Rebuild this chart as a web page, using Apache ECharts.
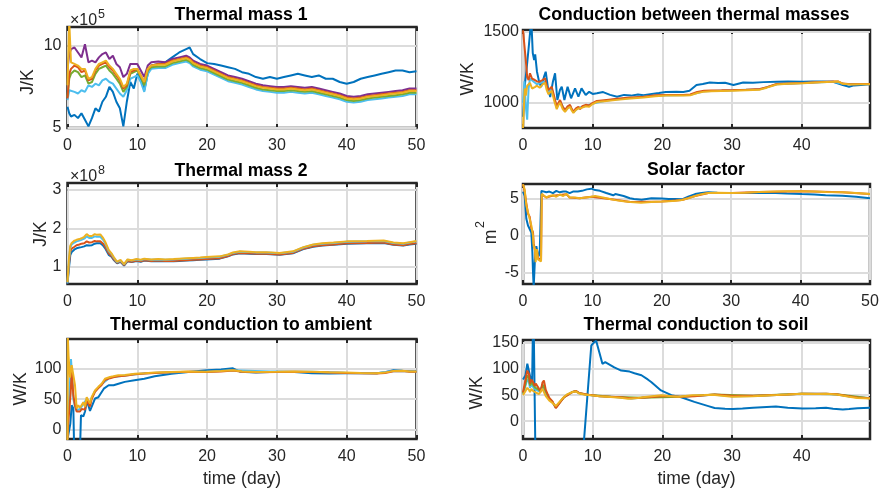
<!DOCTYPE html>
<html><head><meta charset="utf-8">
<script src="https://cdn.jsdelivr.net/npm/echarts@6/dist/echarts.min.js"></script>
<style>html,body{margin:0;padding:0;background:#fff}#c{width:879px;height:495px}</style>
</head><body><div id="c"></div>
<script>
// ---------------- DATA ----------------
const titles = ['Thermal mass 1','Conduction between thermal masses','Thermal mass 2','Solar factor','Thermal conduction to ambient','Thermal conduction to soil'];
const yUnits = ['J/K','W/K','J/K','m','W/K','W/K'];
const xLabel = 'time (day)';
const xTicksLeft = [0,10,20,30,40,50];
const xTicksRight = [0,10,20,30,40];
const xTicksSolar = [0,10,20,30,40,50];
const yTicks1 = [5,10];
const yTicks2 = [1000,1500];
const yTicks3 = [1,2,3];
const yTicks4 = [-5,0,5];
const yTicks5 = [0,50,100];
const yTicks6 = [0,50,100,150];

// Thermal mass 1 (x 1e5 J/K)
const t1 = [0,0.25,0.5,1,1.5,2,2.5,3,3.5,4,4.5,5,5.5,6,6.5,7,7.5,8,8.5,9,9.5,10,10.5,11,11.5,12,13,14,15,16,17,17.5,18,19,20,21,22,23,24,25,26,27,28,29,30,31,32,33,34,35,36,37,38,39,40,41,42,43,44,45,46,47,48,49,50];
const tm1Blue = [6.3,5.9,5.7,5.8,5.6,5.9,5.5,5.1,5.6,6.2,6.0,6.6,6.9,7.5,7.2,6.6,6.2,5.1,6.6,7.8,7.4,8.3,8.0,7.3,8.3,8.8,8.9,9.0,9.3,9.6,9.8,9.9,9.5,9.2,8.95,8.9,8.8,8.7,8.6,8.4,8.3,8.1,8.0,8.1,8.0,8.1,8.2,8.3,8.2,8.1,8.2,8.0,8.0,7.8,7.7,7.8,8.0,8.1,8.2,8.3,8.4,8.5,8.5,8.4,8.45];
const tm1LBlue = [6.7,7.3,7.2,7.2,7.1,7.3,7.2,7.6,7.5,7.7,7.6,7.9,8.0,7.8,7.7,7.4,7.1,6.9,7.3,8.0,8.1,8.2,7.8,7.2,8.3,8.6,8.65,8.65,8.85,8.95,9.05,8.95,8.75,8.55,8.45,8.25,8.05,7.85,7.75,7.65,7.5,7.35,7.25,7.2,7.15,7.15,7.2,7.15,7.1,7.15,7.05,6.95,6.85,6.75,6.6,6.55,6.6,6.7,6.75,6.8,6.85,6.9,6.95,7.05,7.05];
const tm1Green = [6.9,8.0,8.3,8.5,8.4,8.1,8.2,7.7,7.8,8.3,8.6,8.7,8.8,8.5,8.3,8.0,7.7,7.2,7.5,8.3,8.4,8.5,8.1,7.6,8.5,8.7,8.75,8.75,8.95,9.05,9.15,9.05,8.85,8.65,8.55,8.35,8.15,7.95,7.85,7.75,7.6,7.45,7.35,7.3,7.25,7.25,7.3,7.25,7.2,7.25,7.15,7.05,6.95,6.85,6.7,6.65,6.7,6.8,6.85,6.9,6.95,7.0,7.05,7.15,7.15];
const tm1Purple = [8.6,9.5,9.8,9.9,9.6,9.3,10.1,9.0,9.1,9.0,9.3,9.5,9.6,9.2,9.4,8.9,8.7,8.1,8.3,8.9,8.9,8.9,8.5,8.1,8.8,9.0,9.05,9.0,9.2,9.3,9.4,9.3,9.1,8.9,8.8,8.6,8.4,8.2,8.1,8.0,7.85,7.7,7.6,7.55,7.5,7.5,7.55,7.5,7.45,7.5,7.4,7.3,7.2,7.1,6.95,6.9,6.95,7.05,7.1,7.15,7.2,7.25,7.3,7.4,7.4];
const tm1Orange = [6.8,8.3,8.6,8.8,8.7,8.4,8.5,7.9,8.0,8.5,8.8,8.9,9.0,8.7,8.5,8.2,7.9,7.4,7.6,8.4,8.5,8.6,8.2,7.8,8.6,8.8,8.9,8.9,9.1,9.2,9.3,9.2,9.0,8.8,8.7,8.5,8.3,8.1,8.0,7.9,7.75,7.6,7.5,7.45,7.4,7.4,7.45,7.4,7.35,7.4,7.3,7.2,7.1,7.0,6.85,6.8,6.85,6.95,7.0,7.05,7.1,7.15,7.2,7.3,7.3];
const tm1Yellow = [7.6,11.5,9.0,8.9,8.8,8.6,8.6,8.0,8.1,8.6,8.9,9.0,9.1,8.8,8.6,8.3,8.0,7.5,7.7,8.5,8.6,8.6,8.2,7.8,8.6,8.8,8.85,8.85,9.05,9.15,9.25,9.15,8.95,8.75,8.65,8.45,8.25,8.05,7.95,7.85,7.7,7.55,7.45,7.4,7.35,7.35,7.4,7.35,7.3,7.35,7.25,7.15,7.05,6.95,6.8,6.75,6.8,6.9,6.95,7.0,7.05,7.1,7.15,7.25,7.25];

// Conduction between thermal masses (W/K) [day, value]
const cbBlue = [[0,900],[0.25,1120],[0.5,1230],[0.8,1380],[1.1,1540],[1.25,1520],[1.4,1350],[1.6,1300],[1.75,1340],[2.0,1220],[2.3,1150],[2.6,1110],[3.0,1180],[3.26,1218],[3.6,1100],[3.9,1040],[4.3,1150],[4.6,1207],[4.93,1019],[5.3,1090],[5.56,1113],[5.94,1019],[6.4,1113],[6.9,1031],[7.47,1101],[7.95,1042],[8.4,1101],[9.0,1054],[9.5,1077],[10,1062],[10.6,1066],[11.5,1075],[12.5,1055],[13.5,1042],[14.5,1055],[15.5,1050],[16.5,1058],[17.3,1053],[18.5,1062],[19.5,1068],[20.5,1075],[22,1077],[23,1075],[23.9,1084],[24.9,1125],[25.8,1132],[26.8,1142],[28,1138],[29,1140],[30.2,1125],[31.6,1142],[33,1140],[34.5,1145],[36.4,1148],[38,1150],[40.2,1147],[41.5,1150],[43,1150],[44.5,1148],[45.9,1125],[46.8,1113],[47.5,1122],[48.5,1125],[49.8,1130]];
const cbLBlue = [[0,1000],[0.2,1150],[0.45,950],[0.6,880],[0.8,1100],[1.0,1170],[1.5,1150],[2.0,1130],[2.5,1140],[3.16,1150],[3.64,1075],[4.12,1100],[4.84,965],[5.32,1010],[6.03,942],[6.75,978],[7.23,932],[7.95,965],[8.5,970],[9.9,992],[12,1016],[15,1032],[19,1050],[22,1052],[24,1055],[26,1081],[30.2,1087],[34,1094],[36.4,1130],[40.2,1138],[44.5,1148],[45.9,1134],[49.8,1131]];
const cbOrange = [[0,1510],[0.2,1500],[0.4,1300],[0.6,1180],[0.8,1160],[1.0,1207],[1.3,1170],[1.7,1160],[2.0,1150],[2.4,1148],[2.8,1160],[3.16,1172],[3.4,1120],[3.64,1089],[3.9,1100],[4.12,1113],[4.5,1040],[4.84,972],[5.1,1000],[5.32,1019],[5.7,970],[6.03,949],[6.4,975],[6.75,985],[7.0,955],[7.23,937],[7.6,960],[7.95,970],[8.2,955],[8.5,975],[9.0,985],[9.5,980],[9.9,996],[10.6,1012],[12,1020],[13.5,1028],[15,1035],[17.3,1042],[19,1052],[20.5,1055],[22,1054],[23,1054],[24,1058],[25,1075],[26,1084],[27,1086],[28.5,1087],[30.2,1089],[32,1092],[34,1096],[35,1110],[36.4,1132],[38,1136],[40.2,1139],[42,1144],[44.5,1149],[45.2,1150],[45.9,1135],[47,1130],[48.5,1132],[49.8,1132]];
const cbYellow = [[0,822],[0.1,830],[0.25,1100],[0.4,1050],[0.6,1120],[0.8,1110],[1.0,1140],[1.3,1100],[1.7,1110],[2.0,1120],[2.4,1105],[2.8,1130],[3.16,1140],[3.4,1090],[3.64,1060],[3.9,1070],[4.12,1085],[4.5,1010],[4.84,955],[5.1,985],[5.32,1000],[5.7,955],[6.03,935],[6.4,960],[6.75,970],[7.0,945],[7.23,928],[7.6,950],[7.95,960],[8.2,948],[8.5,965],[9.0,975],[9.5,972],[9.9,988],[10.6,1005],[12,1012],[13.5,1020],[15,1028],[17.3,1036],[19,1046],[20.5,1050],[22,1050],[23,1050],[24,1052],[25,1068],[26,1078],[27,1080],[28.5,1082],[30.2,1084],[32,1088],[34,1092],[35,1106],[36.4,1128],[38,1133],[40.2,1137],[42,1142],[44.5,1147],[45.2,1150],[45.9,1133],[47,1128],[48.5,1130],[49.8,1130]];

// Thermal mass 2 (x 1e8 J/K)
const t3 = [0,0.2,0.4,0.6,1.0,1.3,1.7,2.0,2.4,2.75,3.1,3.5,3.9,4.2,4.7,5.1,5.4,5.9,6.3,6.6,7.1,7.6,8.1,8.6,9.2,9.9,10.5,11,12,13,14,15.2,16,17,18,19,19.9,21.8,23,23.7,24.7,26,27,28.5,30.4,32.3,33.8,35.2,36.5,38.1,40,42.9,45.3,46.7,48.1,49,50];
const tm2Blue = [0.55,0.95,1.3,1.38,1.45,1.48,1.50,1.51,1.53,1.56,1.55,1.56,1.60,1.61,1.61,1.55,1.48,1.31,1.26,1.18,1.09,1.13,1.03,1.14,1.12,1.15,1.13,1.16,1.14,1.15,1.14,1.14,1.15,1.16,1.17,1.18,1.19,1.21,1.27,1.32,1.35,1.34,1.33,1.33,1.31,1.35,1.46,1.52,1.55,1.57,1.60,1.61,1.62,1.57,1.55,1.58,1.60];
const tm2Orange = [0.57,1.05,1.4,1.47,1.52,1.56,1.58,1.60,1.61,1.66,1.63,1.64,1.67,1.66,1.66,1.60,1.52,1.35,1.28,1.20,1.10,1.14,1.04,1.15,1.13,1.16,1.14,1.17,1.15,1.16,1.15,1.15,1.16,1.17,1.18,1.19,1.20,1.22,1.28,1.33,1.36,1.35,1.34,1.34,1.32,1.36,1.47,1.53,1.56,1.58,1.61,1.62,1.63,1.58,1.56,1.59,1.61];
const tm2LBlue = [0.58,1.15,1.5,1.58,1.63,1.66,1.68,1.70,1.73,1.79,1.75,1.75,1.79,1.78,1.78,1.70,1.61,1.41,1.33,1.24,1.12,1.16,1.06,1.18,1.16,1.19,1.17,1.20,1.18,1.19,1.18,1.19,1.20,1.21,1.22,1.23,1.24,1.26,1.31,1.36,1.39,1.38,1.37,1.37,1.35,1.39,1.50,1.57,1.60,1.62,1.65,1.66,1.67,1.62,1.60,1.63,1.66];
const tm2Yellow = [0.6,1.2,1.55,1.62,1.68,1.70,1.72,1.74,1.78,1.85,1.80,1.80,1.85,1.83,1.84,1.75,1.65,1.44,1.35,1.26,1.13,1.18,1.07,1.19,1.17,1.20,1.18,1.21,1.19,1.20,1.19,1.20,1.21,1.22,1.23,1.24,1.25,1.27,1.32,1.37,1.40,1.39,1.38,1.38,1.36,1.40,1.51,1.58,1.61,1.63,1.66,1.67,1.68,1.63,1.61,1.64,1.67];

// Solar factor (m2) [day, value]
const sfBlue = [[0,6.0],[0.24,5.4],[0.48,2.3],[0.72,1.4],[0.96,1.4],[1.2,0.45],[1.35,-2.2],[1.44,-4.9],[1.54,-7.0],[1.72,-3.2],[1.92,-1.4],[2.0,-1.6],[2.2,-2.8],[2.4,-2.5],[2.55,-2.7],[2.65,6.1],[2.9,6.1],[3.36,5.9],[3.8,6.0],[4.32,5.8],[4.8,6.1],[5.28,5.9],[5.8,6.0],[6.24,6.0],[6.72,5.8],[7.2,6.0],[7.9,6.0],[8.5,6.1],[9.2,6.3],[9.85,6.4],[10.4,6.2],[11.1,6.1],[12,5.8],[13,5.5],[13.3,5.66],[14.5,5.4],[15.4,5.1],[16,5.0],[17.1,4.9],[18.5,5.1],[20,5.05],[21,5.0],[21.9,4.98],[22.9,4.95],[23.8,5.3],[24.8,5.66],[25.7,5.8],[26.7,5.9],[28,5.85],[30.1,5.8],[32,5.8],[33.9,5.82],[36.4,5.82],[38,5.75],[40.2,5.66],[42,5.6],[43.6,5.5],[46,5.45],[48,5.3],[50,5.1]];
const sfOrange = [[0,7.0],[0.24,6.0],[0.48,4.4],[0.72,3.0],[0.96,2.6],[1.2,1.0],[1.44,0.5],[1.54,-1.0],[1.72,-2.0],[1.82,-3.2],[2.0,-2.0],[2.16,-3.0],[2.4,-3.2],[2.6,-3.3],[2.7,5.6],[2.9,5.6],[3.36,5.2],[4.32,5.45],[5.28,5.55],[6.24,5.65],[6.72,5.2],[8.16,5.1],[9.85,5.3],[12.5,5.0],[15.5,4.6],[20,4.65],[22.9,4.85],[24.8,5.4],[26.7,5.8],[30.1,5.8],[34,5.93],[40.2,6.06],[46,5.9],[50,5.66]];
const sfYellow = [[0,7.0],[0.24,6.3],[0.48,4.1],[0.72,3.2],[0.96,2.3],[1.2,1.4],[1.44,0.0],[1.54,-1.4],[1.72,-1.8],[1.82,-3.6],[2.0,-1.8],[2.16,-3.2],[2.4,-3.4],[2.6,-3.5],[2.7,5.7],[2.9,5.7],[3.36,5.2],[3.8,5.4],[4.32,5.5],[4.8,5.3],[5.28,5.6],[5.8,5.4],[6.24,5.7],[6.72,5.2],[7.5,5.2],[8.16,5.1],[9,5.2],[9.85,5.3],[10.4,5.4],[11.5,5.2],[12.5,5.0],[13.3,4.84],[14.5,4.7],[15.5,4.6],[17,4.5],[18.5,4.6],[20,4.65],[21,4.7],[22,4.75],[22.9,4.85],[23.8,5.1],[24.8,5.4],[25.7,5.65],[26.7,5.8],[28,5.85],[30.1,5.8],[32,5.85],[34,5.93],[36.4,6.0],[38,6.03],[40.2,6.06],[42,6.0],[43.6,5.95],[46,5.9],[48,5.8],[50,5.66]];

// Thermal conduction to ambient (W/K) [day, value]
const caBlue = [[0,-15],[0.4,10],[0.6,40],[0.84,35],[0.95,-30],[1.8,-30],[1.93,24],[2.27,22],[2.51,30],[2.75,46],[2.98,40],[3.22,31],[3.46,34],[3.94,51],[4.42,53],[4.7,53],[5.2,67],[5.9,72.5],[6.6,72.5],[7.3,75],[8.2,78],[9.6,80.5],[11,83],[12.5,87],[14.9,91],[17.3,94],[20,97],[22,98],[23.7,100],[24.7,94.5],[27,93],[30,94.5],[32.5,94],[35,92],[37.5,91.5],[40,92],[42,92],[44.3,92],[45.5,93.5],[46.7,97],[48,96],[50,95]];
const caLBlue = [[0,-15],[0.1,30],[0.3,60],[0.5,115],[0.65,90],[0.84,50],[1.07,38],[1.31,32],[1.79,34],[2.27,42],[2.75,50],[3.22,40],[3.46,52],[3.94,63],[4.89,74],[6.09,85],[8.24,88.5],[11.1,91.8],[14.9,93.8],[19.9,94.3],[23.7,96.8],[30,94.3],[35,94.3],[39.8,92.8],[44.3,91.8],[46.7,95.6],[50,94.8]];
const caOrange = [[0,-15],[0.1,10],[0.25,13],[0.45,60],[0.6,95],[0.84,56],[1.07,40],[1.31,30],[1.55,32],[1.79,30],[2.03,34],[2.27,36],[2.51,33],[2.75,48],[2.98,45],[3.22,38],[3.46,50],[3.94,62],[4.42,68],[4.89,73],[5.37,81],[6.09,84],[6.56,85.5],[7.28,87],[8.24,88],[9.67,90.5],[11.1,91.5],[12.5,92.5],[14.9,93.5],[17.3,94.5],[19.9,94],[22,95],[23.7,96.5],[25,94.5],[27,93.5],[30,94],[32.5,94.5],[35,94],[37.5,93],[39.8,92.5],[42,92],[44.3,91.5],[45.5,92.5],[46.7,95.3],[48,95.5],[49,94.5],[50,94.5]];
const caYellow = [[0,-20],[0.05,150],[0.15,120],[0.36,85],[0.6,105],[0.84,105],[1.07,73],[1.31,35],[1.55,40],[1.79,36],[2.03,35],[2.27,45],[2.51,38],[2.75,53],[2.98,50],[3.22,43],[3.46,53],[3.94,64],[4.42,70],[4.89,75],[5.37,83],[6.09,86],[6.56,87],[7.28,88.6],[8.24,89],[9.67,91.3],[11.1,92],[12.5,93],[14.9,94],[17.3,95],[19.9,94.5],[22,95.5],[23.7,97],[25,95],[27,94],[30,94.5],[32.5,95],[35,94.5],[37.5,93.5],[39.8,93],[42,92.5],[44.3,92],[45.5,93],[46.7,95.8],[48,96],[49,95],[50,95]];

// Thermal conduction to soil (W/K) [day, value]
const csBlue = [[0,80],[0.36,88],[0.62,110],[0.75,113],[0.9,107],[1.2,75],[1.3,70],[1.45,200],[1.5,220],[1.8,-80],[2.1,-150],[8.1,-150],[9.8,145],[10.2,151],[10.5,154],[10.95,132],[11.4,110],[11.8,113],[12.6,107],[13.1,103],[14.1,97],[15.3,95],[16,92],[17,88],[17.9,80],[18.4,75],[19.8,59],[21.3,50],[22.7,46],[24.6,37],[26.6,29],[27.5,25.4],[29,24],[30.1,23.5],[31.5,24.5],[33,26],[36.3,28],[38,26],[40.1,24.5],[42,25],[43.5,25.6],[44.5,24],[45.9,22.5],[46.8,23.5],[48,25],[49.8,26]];
const csLBlue = [[0,52],[0.36,68],[0.62,80],[0.86,75],[1.0,64],[1.2,70],[1.44,66],[1.68,62],[1.83,63],[2.31,57],[2.55,54],[2.79,68],[3.0,70],[3.27,54],[3.75,42],[4.23,36],[4.71,27],[4.95,26],[5.43,39],[5.91,46.5],[6.39,51],[7.11,56],[7.59,57.5],[8.07,53.5],[8.79,51.5],[9.75,49.8],[11,48],[12.6,46.8],[14,45.5],[15.5,43.5],[17,45],[19.9,48.8],[22.7,47],[24.6,48.8],[27.5,50.9],[30,48],[33,48.5],[36.4,50],[40,52.5],[43.5,52.5],[45,51.2],[46.8,47.5],[49.8,43.8]];
const csGreen = [[0,53],[0.36,72],[0.62,88],[0.86,82],[1.0,68],[1.2,75],[1.44,70],[1.68,65],[1.83,67],[2.31,60],[2.55,56],[2.79,71],[3.0,74],[3.27,57],[3.75,44],[4.23,37],[4.71,26],[4.95,25],[5.43,38.5],[5.91,46],[6.39,50.5],[7.11,56],[7.59,57.8],[8.07,53.8],[8.79,51.8],[9.75,50],[12.6,47],[17,45],[22.7,47],[27.5,51],[33,49],[40,52.5],[45,51.5],[49.8,44]];
const csOrange = [[0,55],[0.36,80],[0.62,97],[0.86,90],[1.0,72],[1.2,80],[1.44,75],[1.68,68],[1.83,72],[2.31,62],[2.55,58],[2.79,74],[3.0,78],[3.27,60],[3.75,45],[4.23,38],[4.71,25],[4.95,23],[5.43,38],[5.91,46],[6.39,50],[7.11,56],[7.59,58],[8.07,54],[8.79,52],[9.75,50],[11,48],[12.6,47],[14,46],[15.5,44],[17,45],[18.5,46.5],[19.9,48],[21.3,48],[22.7,47],[24.6,48],[26.6,50],[27.5,51],[30,49],[33,49],[36.4,50],[38,51],[40,52.5],[42,52.5],[43.5,52.5],[45,51.5],[46.8,48],[48,45.5],[49.8,44]];
const csYellow = [[0,50],[0.36,58],[0.62,64],[0.86,60],[1.0,56],[1.2,62],[1.44,58],[1.68,55],[1.83,55],[2.31,52],[2.55,49],[2.79,62],[3.0,63],[3.27,48],[3.75,40],[4.23,35],[4.71,29],[4.95,28],[5.43,40],[5.91,47],[6.39,52],[7.11,56],[7.59,57],[8.07,53],[8.79,51],[9.75,49.6],[11,48],[12.6,46.5],[14,45],[15.1,43],[16.5,44.5],[17.5,46.4],[19.9,49.6],[21.3,48],[22.3,47],[24.3,49.6],[26,50],[27.2,50.8],[30,47],[33,48],[36.4,50],[38,51],[40,52.5],[42,52],[43.5,52.5],[45,51],[46.8,47],[48,44.5],[49.8,43.5]];

// ---------------- STYLE / LAYOUT ----------------
const FONT = '"Liberation Sans", Arial, Helvetica, sans-serif';
const COL = {blue:'#0072BD', orange:'#D95319', yellow:'#EDB120', purple:'#7E2F8E', green:'#77AC30', lblue:'#4DBEEE'};
const INK = '#262626';
const GRIDC = '#dcdcdc';
const zip = (t, v) => t.map((x, i) => [x, v[i]]);

const panels = [
  {rect:{left:67.5, top:27, width:349, height:101}, xMax:50, yMin:5, yMax:11.15, xt:xTicksLeft, yt:yTicks1, lm:6,
   lines:[[zip(t1,tm1Blue),'blue'],[zip(t1,tm1LBlue),'lblue'],[zip(t1,tm1Green),'green'],[zip(t1,tm1Purple),'purple'],[zip(t1,tm1Orange),'orange'],[zip(t1,tm1Yellow),'yellow']]},
  {rect:{left:523, top:30, width:347, height:98}, xMax:49.8, yMin:822, yMax:1512, xt:xTicksRight, yt:yTicks2, lm:4,
   lines:[[cbBlue,'blue'],[cbLBlue,'lblue'],[cbOrange,'orange'],[cbYellow,'yellow']]},
  {rect:{left:67.5, top:183, width:349, height:101}, xMax:50, yMin:0.55, yMax:3.18, xt:xTicksLeft, yt:yTicks3, lm:6,
   lines:[[zip(t3,tm2Blue),'blue'],[zip(t3,tm2Orange),'orange'],[zip(t3,tm2LBlue),'lblue'],[zip(t3,tm2Yellow),'yellow']]},
  {rect:{left:523, top:184, width:347, height:100}, xMax:50, yMin:-6.55, yMax:7.03, xt:xTicksSolar, yt:yTicks4, lm:4,
   lines:[[sfBlue,'blue'],[sfOrange,'orange'],[sfYellow,'yellow']]},
  {rect:{left:67.5, top:339, width:349, height:100}, xMax:50, yMin:-14.6, yMax:147.5, xt:xTicksLeft, yt:yTicks5, lm:6,
   lines:[[caBlue,'blue'],[caLBlue,'lblue'],[caOrange,'orange'],[caYellow,'yellow']]},
  {rect:{left:523, top:340, width:347, height:99}, xMax:49.8, yMin:-34, yMax:155.5, xt:xTicksRight, yt:yTicks6, lm:4,
   lines:[[csBlue,'blue'],[csLBlue,'lblue'],[csGreen,'green'],[csOrange,'orange'],[csYellow,'yellow']]}
];

const grid = [], xAxis = [], yAxis = [], series = [];
const tickStyle = {color: INK, width: 2};
const labelStyle = {color: INK, fontSize: 16, fontFamily: FONT, formatter: v => String(v)};
panels.forEach((p, i) => {
  grid.push(Object.assign({show:true, borderColor:INK, borderWidth:2.5, backgroundColor:'#fff', containLabel:false, outerBoundsMode:'none'}, p.rect));
  xAxis.push({type:'value', gridIndex:i, min:0, max:p.xMax, position:'bottom',
    axisLine:{show:false, onZero:false},
    axisTick:{show:true, inside:true, length:4, lineStyle:tickStyle, customValues:p.xt},
    axisLabel:Object.assign({customValues:p.xt, margin:10}, labelStyle),
    splitLine:{show:true, lineStyle:{color:GRIDC, width:2}}});
  xAxis.push({type:'value', gridIndex:i, min:0, max:p.xMax, position:'top',
    axisLine:{show:false, onZero:false},
    axisTick:{show:true, inside:true, length:4, lineStyle:tickStyle, customValues:p.xt},
    axisLabel:{show:false}, splitLine:{show:false}});
  yAxis.push({type:'value', gridIndex:i, min:p.yMin, max:p.yMax, position:'left',
    axisLine:{show:false, onZero:false},
    axisTick:{show:true, inside:true, length:4, lineStyle:tickStyle, customValues:p.yt},
    axisLabel:Object.assign({customValues:p.yt, margin:p.lm}, labelStyle),
    splitLine:{show:false}});
  yAxis.push({type:'value', gridIndex:i, min:p.yMin, max:p.yMax, position:'right',
    axisLine:{show:false, onZero:false},
    axisTick:{show:true, inside:true, length:4, lineStyle:tickStyle, customValues:p.yt},
    axisLabel:{show:false}, splitLine:{show:false}});
  // horizontal grid lines at the y tick values (kept under the data lines)
  series.push({type:'line', xAxisIndex:2*i, yAxisIndex:2*i, data:[], z:1, silent:true,
    markLine:{silent:true, z:1, symbol:['none','none'], label:{show:false}, animation:false,
      lineStyle:{color:GRIDC, width:2, type:'solid'}, emphasis:{disabled:true},
      data:p.yt.map(v => ({yAxis:v}))}});
  p.lines.forEach(([d, c]) => {
    series.push({type:'line', xAxisIndex:2*i, yAxisIndex:2*i, data:d, showSymbol:false, symbol:'none', z:3,
      clip:true, silent:true, lineStyle:{color:COL[c], width:2}, emphasis:{disabled:true}});
  });
});

const titlePos = [[241,15],[694,15],[241,171],[696,170],[241,325],[696,325]];
const unitPos = [[28,82],[468,79],[41,234],[491.5,237],[21,389],[477,393]];
const graphic = [];
titles.forEach((t, i) => graphic.push({type:'text', x:titlePos[i][0], y:titlePos[i][1], silent:true,
  style:{text:t, fill:'#000', font:'bold 17.6px ' + FONT, align:'center', verticalAlign:'middle'}}));
yUnits.forEach((t, i) => graphic.push({type:'text', x:unitPos[i][0], y:unitPos[i][1], rotation:Math.PI/2, silent:true,
  style:{text:t, fill:INK, font:'17.6px ' + FONT, align:'center', verticalAlign:'middle'}}));
// superscript of m^2
graphic.push({type:'text', x:481, y:224.5, rotation:Math.PI/2, silent:true,
  style:{text:'2', fill:INK, font:'12.5px ' + FONT, align:'center', verticalAlign:'middle'}});
// axis exponents
[[21, '5'], [177, '8']].forEach(([y, e]) => {
  graphic.push({type:'text', x:70, y:y, silent:true, style:{text:'×10', fill:INK, font:'16px ' + FONT, align:'left', verticalAlign:'middle'}});
  graphic.push({type:'text', x:98, y:y - 6, silent:true, style:{text:e, fill:INK, font:'12.5px ' + FONT, align:'left', verticalAlign:'middle'}});
});
[[242,479],[696.5,479]].forEach(([x, y]) => graphic.push({type:'text', x:x, y:y, silent:true,
  style:{text:xLabel, fill:INK, font:'17.6px ' + FONT, align:'center', verticalAlign:'middle'}}));

const chart = echarts.init(document.getElementById('c'), null, {renderer:'canvas'});
chart.setOption({animation:false, backgroundColor:'#fff', grid, xAxis, yAxis, series, graphic});
</script></body></html>
